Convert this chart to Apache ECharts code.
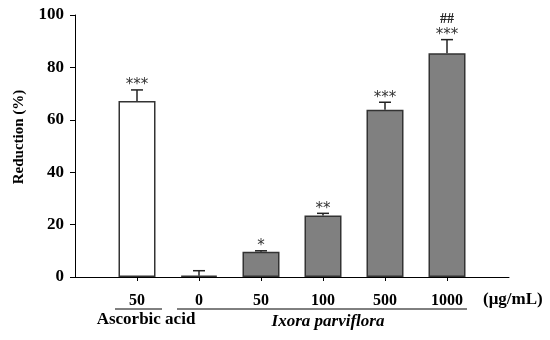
<!DOCTYPE html>
<html><head><meta charset="utf-8">
<script src="https://cdn.jsdelivr.net/npm/echarts@6/dist/echarts.min.js"></script>
<style>html,body{margin:0;padding:0;background:#fff}#c{width:550px;height:340px}</style>
</head><body><div id="c"></div>
<script>
var doseLabels = ['50', '0', '50', '100', '500', '1000'];
var means = [67.2, 0.5, 9.6, 23.5, 63.8, 85.4];
var errs = [4.2, 1.9, 0.4, 0.8, 2.9, 5.2];
var stars = ['***', '', '*', '**', '***', '***'];
var hashes = ['', '', '', '', '', '##'];
var fills = ['#ffffff', '#808080', '#808080', '#808080', '#808080', '#808080'];
var yTicks = [0, 20, 40, 60, 80, 100];

var cats = ['p0'].concat(doseLabels.map(function (d, i) { return 'c' + i; })).concat(['p1']);
var FONT = '"Liberation Serif", "Times New Roman", serif';

var barData = means.map(function (v, i) {
  return { value: [i + 1, v], itemStyle: { color: fills[i] } };
});
var errData = means.map(function (v, i) { return [i + 1, v, v + errs[i], i]; });

var chart = echarts.init(document.getElementById('c'), null, { renderer: 'canvas' });
chart.setOption({
  animation: false,
  backgroundColor: '#fff',
  grid: { left: 75, right: 41, top: 15, bottom: 63 },
  xAxis: {
    type: 'category', data: cats, boundaryGap: false,
    axisLine: { lineStyle: { color: '#000', width: 1 } },
    axisTick: { length: 4, lineStyle: { color: '#000' },
      interval: function (idx) { return idx > 0 && idx < cats.length - 1; } },
    axisLabel: { margin: 16, color: '#000', fontFamily: FONT, fontWeight: 'bold', fontSize: 16,
      interval: 0,
      formatter: function (v, idx) { return (idx > 0 && idx < cats.length - 1) ? doseLabels[idx - 1] : ''; } },
    splitLine: { show: false }
  },
  yAxis: {
    type: 'value', min: 0, max: 100, interval: 20,
    axisLine: { show: true, lineStyle: { color: '#000', width: 1 } },
    axisTick: { show: true, length: 5, lineStyle: { color: '#000' } },
    axisLabel: { margin: 11, color: '#000', fontFamily: FONT, fontWeight: 'bold', fontSize: 17,
      formatter: function (v) { return yTicks.indexOf(v) >= 0 ? String(v) : ''; } },
    splitLine: { show: false }
  },
  series: [
    {
      type: 'bar', data: barData, barWidth: 37,
      itemStyle: { borderColor: '#333', borderWidth: 1.5 },
      z: 2
    },
    {
      type: 'custom', data: errData, z: 3,
      encode: { x: 0, y: [1, 2] },
      renderItem: function (params, api) {
        var i = api.value(3);
        var p0 = api.coord([api.value(0), api.value(1)]);
        var p1 = api.coord([api.value(0), api.value(2)]);
        var hw = 6;
        var children = [
          { type: 'line', shape: { x1: p0[0], y1: p0[1], x2: p1[0], y2: p1[1] }, style: { stroke: '#222', lineWidth: 1.5 } },
          { type: 'line', shape: { x1: p1[0] - hw, y1: p1[1], x2: p1[0] + hw, y2: p1[1] }, style: { stroke: '#222', lineWidth: 1.5 } }
        ];
        if (stars[i]) {
          children.push({ type: 'text', style: { text: stars[i], x: p1[0], y: p1[1] + 3, align: 'center', verticalAlign: 'bottom',
            fill: '#333', font: '15px "DejaVu Sans", sans-serif' } });
        }
        if (hashes[i]) {
          children.push({ type: 'text', style: { text: hashes[i], x: p1[0], y: p1[1] - 13, align: 'center', verticalAlign: 'bottom',
            fill: '#222', font: 'bold 14px "Liberation Serif", serif' } });
        }
        return { type: 'group', children: children };
      }
    }
  ],
  graphic: [
    { type: 'text', x: 19, y: 137, rotation: Math.PI / 2, style: { text: 'Reduction (%)', align: 'center', verticalAlign: 'middle',
      fill: '#000', font: 'bold 15px "Liberation Serif", serif' } },
    { type: 'line', shape: { x1: 115, y1: 309, x2: 162, y2: 309 }, style: { stroke: '#000', lineWidth: 1 } },
    { type: 'line', shape: { x1: 177, y1: 309, x2: 467, y2: 309 }, style: { stroke: '#000', lineWidth: 1 } },
    { type: 'text', x: 146, y: 320, style: { text: 'Ascorbic acid', align: 'center', verticalAlign: 'middle',
      fill: '#000', font: 'bold 17px "Liberation Serif", serif' } },
    { type: 'text', x: 328, y: 322, style: { text: 'Ixora parviflora', align: 'center', verticalAlign: 'middle',
      fill: '#000', font: 'italic bold 17px "Liberation Serif", serif' } },
    { type: 'text', x: 483, y: 300, style: { text: '(\u03bcg/mL)', align: 'left', verticalAlign: 'middle',
      fill: '#000', font: 'bold 17px "Liberation Serif", serif' } }
  ]
});
</script></body></html>
